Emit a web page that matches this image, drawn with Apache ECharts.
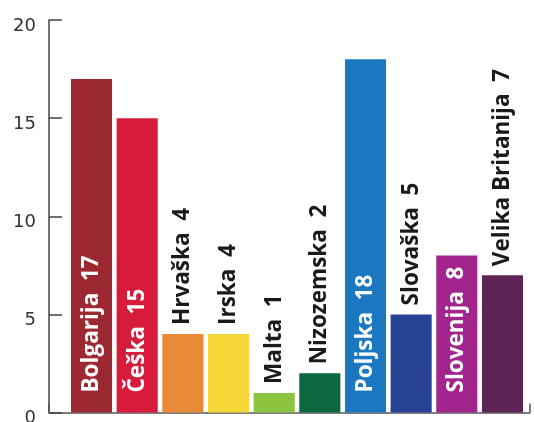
<!DOCTYPE html>
<html>
<head>
<meta charset="utf-8">
<script src="https://cdn.jsdelivr.net/npm/echarts@6/dist/echarts.min.js"></script>
<style>
  html, body { margin: 0; padding: 0; background: #ffffff; }
  #chart { width: 534px; height: 422px; }
</style>
</head>
<body>
<div id="chart"></div>
<script>
// Countries and their counts
const countries = ['Bolgarija', 'Češka', 'Hrvaška', 'Irska', 'Malta', 'Nizozemska', 'Poljska', 'Slovaška', 'Slovenija', 'Velika Britanija'];
const counts = [17, 15, 4, 4, 1, 2, 18, 5, 8, 7];
const yTicks = [0, 5, 10, 15, 20];

// One colour per bar
const palette = ['#9c2832', '#d61b3b', '#e98a38', '#f6d737', '#8cc440', '#0d6840', '#1b78c0', '#284393', '#a2258e', '#5d2458'];

// Tall bars carry their label inside in white, short bars get a dark label above
const INSIDE_MIN = 8;

const labelFont = { fontFamily: 'Open Sans', fontWeight: 'bold', fontSize: 22.5 };

const barData = counts.map((v, i) => {
  const inside = v >= INSIDE_MIN;
  return {
    value: v,
    itemStyle: { color: palette[i] },
    label: Object.assign({
      show: true,
      rotate: 90,
      align: 'left',
      verticalAlign: 'middle',
      position: inside ? 'insideBottom' : 'top',
      distance: inside ? 20 : 9,
      color: inside ? '#ffffff' : '#1a1a1a',
      formatter: countries[i] + '  ' + v
    }, labelFont)
  };
});

const chart = echarts.init(document.getElementById('chart'), null, { renderer: 'canvas' });

chart.setOption({
  animation: false,
  backgroundColor: '#ffffff',
  grid: [
    { left: 49, right: 4, top: 20, bottom: 9.5, outerBoundsMode: 'none', containLabel: false },
    { left: 68.7, right: 8.7, top: 20, bottom: 9.5, outerBoundsMode: 'none', containLabel: false }
  ],
  xAxis: [
    {
      gridIndex: 0, type: 'value', min: 0, max: 1, interval: 1,
      axisLine: { show: true, lineStyle: { color: '#555', width: 1.5 } },
      axisTick: { show: true, inside: true, length: 9, lineStyle: { color: '#555', width: 1.5 } },
      axisLabel: { show: false },
      splitLine: { show: false }
    },
    {
      gridIndex: 1, type: 'category', data: countries,
      show: false
    }
  ],
  yAxis: [
    {
      gridIndex: 0, type: 'value', min: yTicks[0], max: yTicks[yTicks.length - 1], interval: 5,
      axisLine: { show: true, lineStyle: { color: '#444', width: 1.5 } },
      axisTick: { show: true, inside: true, length: 13, lineStyle: { color: '#444', width: 1.5 } },
      axisLabel: {
        margin: 13,
        formatter: '{t|{value}}',
        rich: {
          t: { color: '#333', fontFamily: 'DejaVu Sans', fontSize: 18, lineHeight: 20, padding: [12, 0, 0, 0] }
        }
      },
      splitLine: { show: false }
    },
    {
      gridIndex: 1, type: 'value', min: yTicks[0], max: yTicks[yTicks.length - 1],
      show: false, splitLine: { show: false }
    }
  ],
  series: [
    {
      type: 'bar',
      xAxisIndex: 1,
      yAxisIndex: 1,
      barCategoryGap: '10%',
      data: barData
    }
  ]
});
</script>
</body>
</html>
